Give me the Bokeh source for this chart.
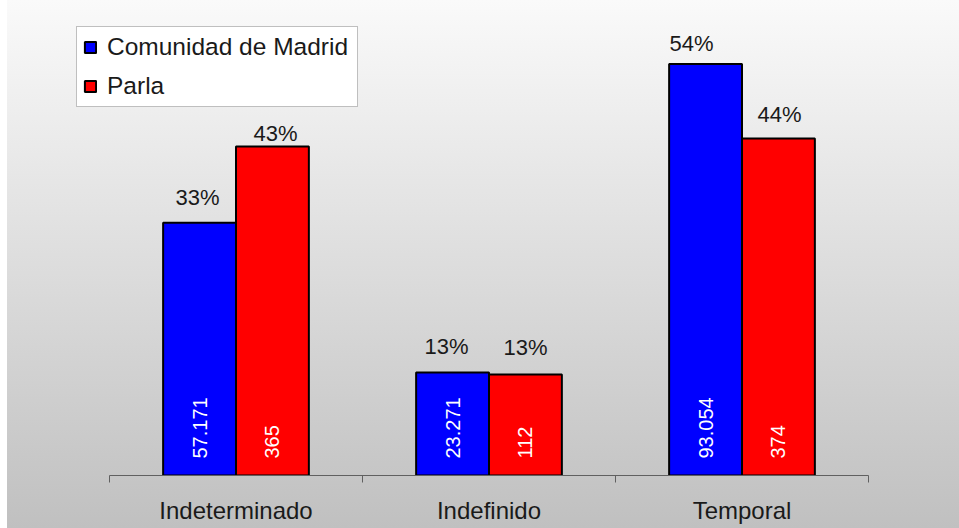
from bokeh.plotting import figure
from bokeh.models import (Range1d, FixedTicker, ColumnDataSource, LabelSet,
                          Legend, LegendItem)
from bokeh.core.properties import value
from bokeh.embed import file_html
from bokeh.resources import INLINE
import math

# ---- data ----
categories = ["Indeterminado", "Indefinido", "Temporal"]
series_names = ["Comunidad de Madrid", "Parla"]
madrid_counts = [57171, 23271, 93054]
parla_counts = [365, 112, 374]

# ---- layout / styles ----
W, H = 959, 528
AXIS_LEFT_PX, AXIS_RIGHT_PX = 109, 868   # where the category axis starts/ends
FRAME_H = 475                             # baseline position from top
PX_PER_PCT = 7.67
BLUE = "#0000ff"
RED = "#ff0000"
FONT = "Liberation Sans"
BAR_W = 0.288
DODGE = 0.144
madrid_pct_gap = [25, 26, 21]
madrid_pct_dx = [-2, -6, -14]
parla_pct_gap = [13, 27, 24]
parla_pct_dx = [3, 0, 1]


def pct(vals):
    t = sum(vals)
    return [100.0 * v / t for v in vals]


def thousands(v):
    return f"{v:,}".replace(",", ".")


n = len(categories)
unit = (AXIS_RIGHT_PX - AXIS_LEFT_PX) / n
x_start = -AXIS_LEFT_PX / unit
x_end = (W - AXIS_LEFT_PX) / unit

centers = [i + 0.5 for i in range(n)]
madrid_pct = pct(madrid_counts)
parla_pct = pct(parla_counts)

p = figure(width=W, height=H,
           x_range=Range1d(x_start, x_end),
           y_range=Range1d(0, FRAME_H / PX_PER_PCT),
           output_backend="svg", toolbar_location=None,
           y_axis_location=None,
           min_border_left=0, min_border_right=0,
           min_border_top=0, min_border_bottom=H - FRAME_H)
p.background_fill_color = None
p.border_fill_color = None
p.outline_line_color = None
p.styles = {"background-image":
            "linear-gradient(to right, #ffffff 7px, transparent 7px), "
            "linear-gradient(to bottom, #fafafa, #c0c0c0)"}
p.xgrid.visible = False
p.ygrid.visible = False

src_m = ColumnDataSource(dict(
    x=[c - DODGE for c in centers], top=madrid_pct,
    pct=[f"{round(v)}%" for v in madrid_pct],
    cnt=[thousands(v) for v in madrid_counts],
    gap=madrid_pct_gap, dx=madrid_pct_dx, zero=[0] * n))
src_p = ColumnDataSource(dict(
    x=[c + DODGE for c in centers], top=parla_pct,
    pct=[f"{round(v)}%" for v in parla_pct],
    cnt=[thousands(v) for v in parla_counts],
    gap=parla_pct_gap, dx=parla_pct_dx, zero=[0] * n))

r_m = p.vbar(x="x", top="top", width=BAR_W, source=src_m,
             fill_color=BLUE, line_color="black", line_width=2)
r_p = p.vbar(x="x", top="top", width=BAR_W, source=src_p,
             fill_color=RED, line_color="black", line_width=2)

for src in (src_m, src_p):
    p.add_layout(LabelSet(x="x", y="top", text="pct", source=src,
                          x_offset="dx", y_offset="gap",
                          text_align="center", text_baseline="middle",
                          text_font=value(FONT), text_font_size=value("22px"),
                          text_color="#1a1a1a"))
    p.add_layout(LabelSet(x="x", y="zero", text="cnt", source=src,
                          y_offset=17, angle=math.pi / 2,
                          text_align="left", text_baseline="middle",
                          text_font=value(FONT), text_font_size=value("20px"),
                          text_color="white"))

ax = p.xaxis[0]
ax.bounds = (0, n)
ax.ticker = FixedTicker(ticks=centers, minor_ticks=list(range(n + 1)))
ax.major_label_overrides = {c: name for c, name in zip(centers, categories)}
ax.major_tick_line_color = None
ax.major_tick_out = 7
ax.major_tick_in = 0
ax.minor_tick_out = 7
ax.minor_tick_in = 0
ax.minor_tick_line_color = "#606060"
ax.axis_line_color = "#606060"
ax.major_label_standoff = 14
ax.major_label_text_font = FONT
ax.major_label_text_font_size = "24px"
ax.major_label_text_color = "#1a1a1a"

legend = Legend(items=[LegendItem(label=series_names[0], renderers=[r_m]),
                       LegendItem(label=series_names[1], renderers=[r_p])],
                location=(76, 368), margin=0, padding=6, spacing=11,
                glyph_width=14, glyph_height=14, label_standoff=10,
                label_width=244,
                label_text_font=FONT, label_text_font_size="24.5px",
                label_text_color="#1a1a1a",
                border_line_color="#808080", border_line_width=1,
                background_fill_color="white", background_fill_alpha=1)
p.add_layout(legend, "center")

open("out.html", "w").write(file_html(p, INLINE))
